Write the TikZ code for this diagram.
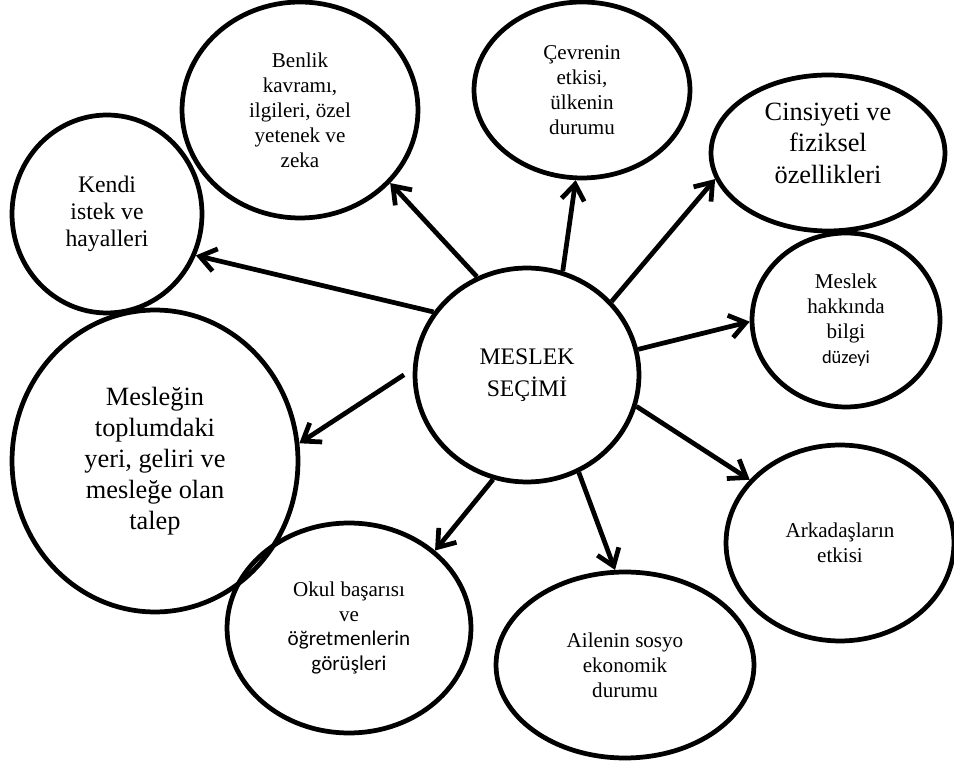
\documentclass[tikz,border=0pt]{standalone}
\usepackage{fontspec}
\setmainfont{Liberation Serif}
\newfontfamily\calibri{Carlito}
\usetikzlibrary{shapes.geometric,arrows.meta}
\begin{document}
\begin{tikzpicture}[x=0.02cm, y=-0.02cm,
  bubble/.style={ellipse, draw, line width=2.7pt, inner sep=0pt, align=center, font=\fontsize{12}{14.2}\selectfont},
  arr/.style={line width=2.7pt, -{Straight Barb[length=9pt,width=13pt]}}]
\useasboundingbox (0,0) rectangle (954,763);
\node[bubble, minimum width=4.48cm, minimum height=4.28cm, font=\fontsize{13.5}{18}\selectfont] (ms) at (527,375) {MESLEK\\SEÇİMİ};
\node[bubble, minimum width=3.8cm, minimum height=3.96cm, font=\fontsize{13.5}{15.5}\selectfont] (kendi) at (107,214) {Kendi\\istek ve\\hayalleri};
\node[bubble, minimum width=4.72cm, minimum height=4.32cm] (benlik) at (300,110) {Benlik\\kavramı,\\ilgileri, özel\\yetenek ve\\zeka};
\node[bubble, minimum width=4.32cm, minimum height=3.52cm] (cevre) at (582,90) {Çevrenin\\etkisi,\\ülkenin\\durumu};
\node[bubble, minimum width=4.68cm, minimum height=3.12cm, text depth=0.4cm, font=\fontsize{15}{18}\selectfont] (cins) at (828,153) {Cinsiyeti ve\\fiziksel\\özellikleri};
\node[bubble, minimum width=3.76cm, minimum height=3.48cm] (bilgi) at (846,320) {Meslek\\hakkında\\bilgi\\{\calibri\fontsize{10.5}{14.2}\selectfont düzeyi}};
\node[bubble, minimum width=4.56cm, minimum height=3.92cm] (arkadas) at (840,543) {Arkadaşların\\etkisi};
\node[bubble, minimum width=5.16cm, minimum height=3.72cm] (aile) at (625,665) {Ailenin sosyo\\ekonomik\\durumu};
\node[bubble, minimum width=4.88cm, minimum height=4.2cm] (okul) at (349,628) {Okul başarısı\\ve\\{\calibri öğretmenlerin}\\{\calibri görüşleri}};
\node[bubble, minimum width=5.72cm, minimum height=6.04cm, font=\fontsize{15}{17.6}\selectfont] (toplum) at (155,461) {Mesleğin\\toplumdaki\\yeri, geliri ve\\mesleğe olan\\talep};
\draw[arr] (ms.146) -- (kendi.-25);
\draw[arr] (ms.117) -- (benlik.-39);
\draw[arr] (ms.71) -- (cevre.-94);
\draw[arr] (ms.41) -- (cins.-167);
\draw[arr] (ms.13) -- (bilgi.181);
\draw[arr] (ms.-16) -- (arkadas.145);
\draw[arr] (ms.-62) -- (aile.96);
\draw[arr] (ms.-108) -- (okul.42);
\draw[arr, shorten <=6pt] (ms.177) -- (toplum.7);
\end{tikzpicture}
\end{document}
